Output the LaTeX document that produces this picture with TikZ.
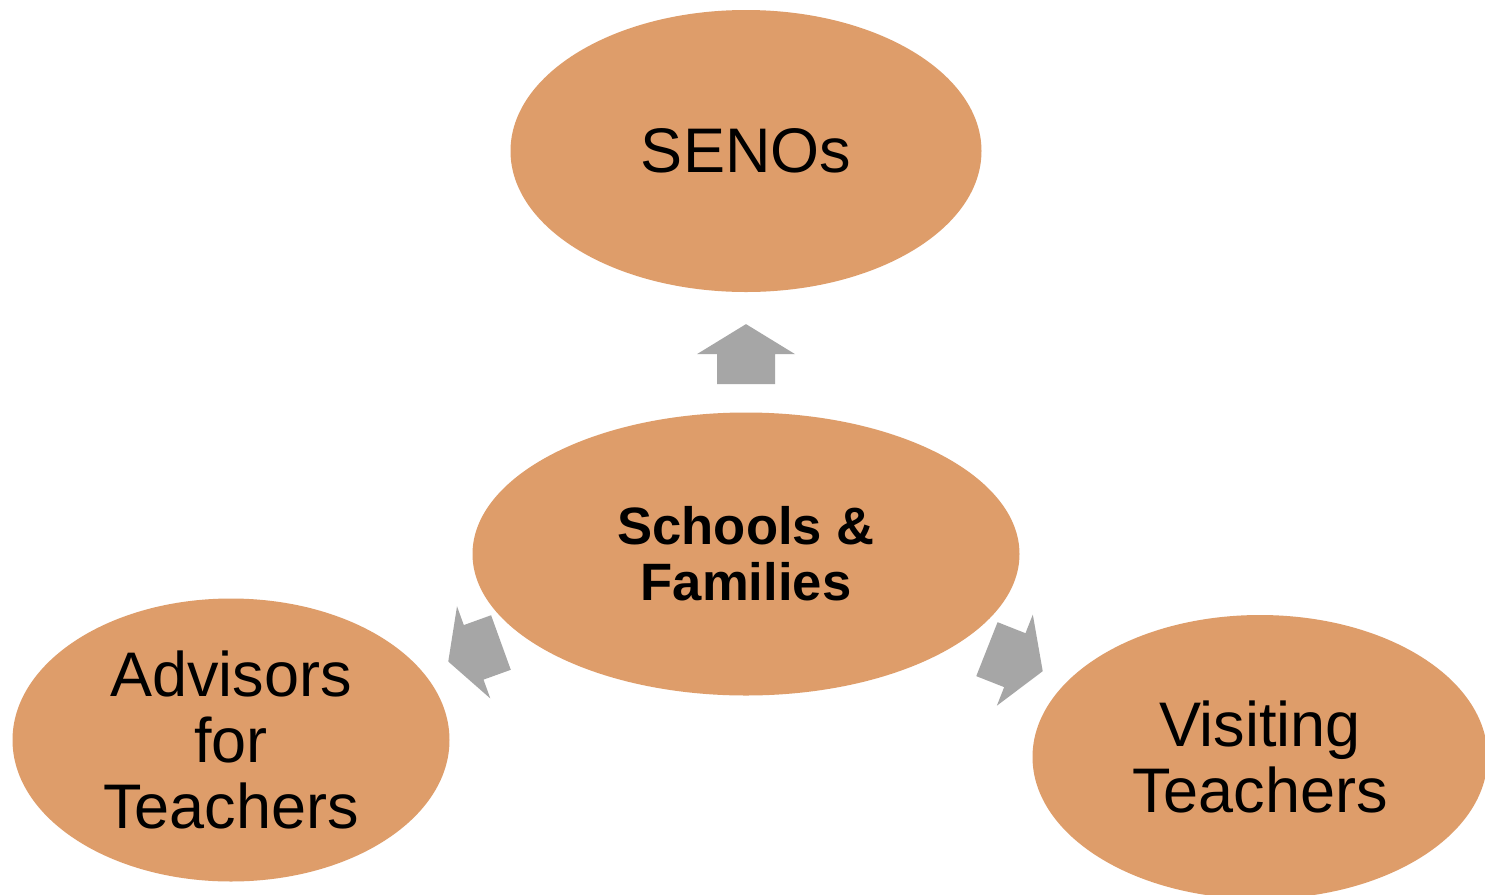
\documentclass[tikz,border=0pt]{standalone}
\usepackage{fontspec}
\setmainfont{Liberation Sans}
\usetikzlibrary{shapes.geometric,calc}
\definecolor{bubble}{RGB}{222,157,106}
\definecolor{arrowgray}{RGB}{166,166,166}
\tikzset{
  bubble/.style={ellipse, fill=bubble, draw=none, inner sep=0pt, align=center, text=black,
    font=\fontsize{31.5}{33}\selectfont},
  centerbubble/.style={bubble, font=\bfseries\fontsize{26.3}{28}\selectfont},
  blockarrow/.pic={
    \fill[arrowgray] (-30,-29) -- (0,-29) -- (0,-49) -- (30,0) -- (0,49) -- (0,29) -- (-30,29) -- cycle;
  },
  shortarrow/.pic={
    \fill[arrowgray] (-28,-29) -- (1,-29) -- (1,-49) -- (28,0) -- (1,49) -- (1,29) -- (-28,29) -- cycle;
  }
}
\begin{document}
\begin{tikzpicture}[x=0.5pt,y=0.5pt]
\clip (0,0) rectangle (1485,-895);
\fill[white] (0,0) rectangle (1485,-895);
\node[bubble, minimum width=235.5pt, minimum height=141pt] (senos) at (746,-151) {SENOs};
\node[centerbubble, minimum width=273.5pt, minimum height=141.5pt] (sf) at (746,-554) {Schools \&\\Families};
\node[bubble, minimum width=218.5pt, minimum height=141.5pt] (adv) at (231,-740) {Advisors\\for\\Teachers};
\node[bubble, minimum width=227.5pt, minimum height=142pt] (vis) at (1260,-757) {Visiting\\Teachers};
\path (sf.center) -- (senos.center) pic[pos=0.496, sloped, allow upside down] {blockarrow};
\path (sf.center) -- (adv.center) pic[pos=0.527, sloped, allow upside down] {shortarrow};
\path (sf.center) -- (vis.center) pic[pos=0.523, sloped, allow upside down] {blockarrow};
\end{tikzpicture}
\end{document}
